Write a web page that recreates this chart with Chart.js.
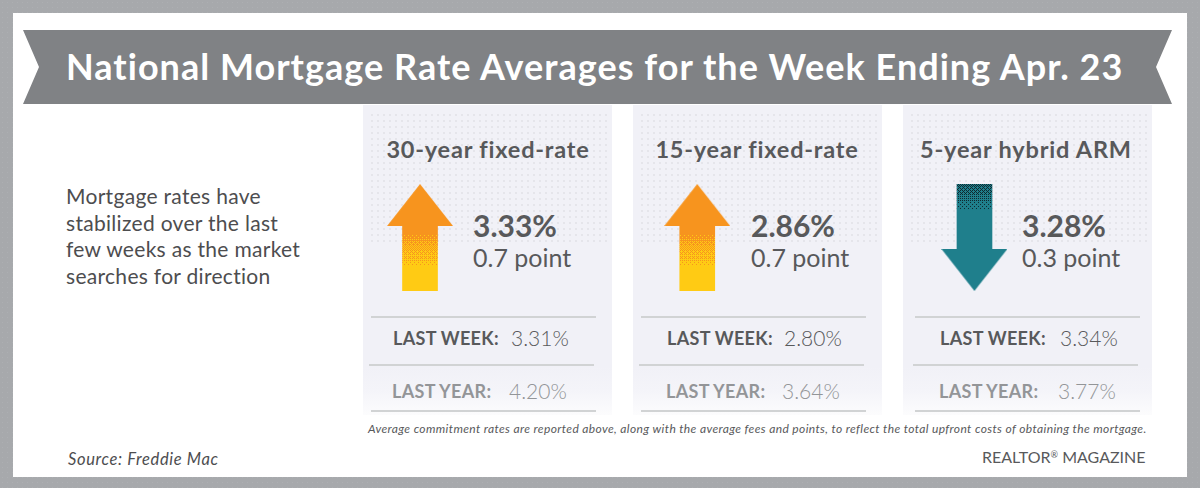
<!DOCTYPE html>
<html>
<head>
<meta charset="utf-8">
<script src="https://cdn.jsdelivr.net/npm/chart.js@4"></script>
<style>
    html, body { margin: 0; padding: 0; background: #fff; }
    #page { position: relative; width: 1200px; height: 488px; overflow: hidden; font-family: Lato, sans-serif; color: #58595b; background: #a7a9ac; }
    #page div, #page canvas { position: absolute; white-space: nowrap; }
    #frameDots { inset: 0; background-image: radial-gradient(#adafb2 0.6px, transparent 0.9px); background-size: 5px 5px; }
    #inner { left: 13px; top: 13px; width: 1174px; height: 464px; background: #fff; }
    #banner { left: 23px; top: 30px; width: 1149px; height: 74px; background: #808285;
        clip-path: polygon(0 0, 100% 0, 1133px 37px, 100% 100%, 0 100%, 16px 37px); }
    #title { left: 66px; top: 44px; font-size: 36px; font-weight: 700; color: #fff; letter-spacing: 1.02px; }
    .panel { top: 105px; width: 249px; height: 310px; background: linear-gradient(#f1f1f7 0, #f1f1f7 262px, #f4f4f9 285px, #fcfcfd 310px); }
    .panel .dots { left: 6px; top: 7px; width: 238px; height: 133px;
        background-image: radial-gradient(#d6d6dc 0.55px, transparent 0.85px); background-size: 6px 6px; }
    .rule { height: 2px; width: 225px; background: #d1d3d4; }
    .product { font-size: 23.5px; font-weight: 700; top: 135px; transform: translateX(-50%); letter-spacing: 0.8px; }
    .rate { font-size: 30px; font-weight: 700; top: 207px; }
    .change { font-size: 25px; top: 242px; }
    .rowLabel { font-size: 18px; font-weight: 700; letter-spacing: 0.3px; }
    .rowValue { font-size: 21px; font-weight: 300; }
    .faded { color: #939598; }
    .fadedValue { color: #939598; }
    #page #blurb { left: 66px; top: 183px; font-size: 21px; line-height: 26.6px; letter-spacing: 0.3px; white-space: pre; color: #4d4d4f; }
    #note { left: 368px; top: 421px; font-size: 12px; font-style: italic; color: #58595b; letter-spacing: 0.38px; }
    #source { left: 68px; top: 449px; font-size: 16.5px; font-style: italic; color: #4d4d4f; letter-spacing: 0.65px; }
    #brand { left: 982px; top: 447px; font-size: 16px; color: #58595b; }
    #brand sup { font-size: 9px; vertical-align: 5px; line-height: 0; }
</style>
</head>
<body>
<div id="page">
    <div id="frameDots"></div>
    <div id="inner"></div>
    <div id="banner"></div>
    <div id="title">National Mortgage Rate Averages for the Week Ending Apr. 23</div>
    <div id="blurb">Mortgage rates have
stabilized over the last
few weeks as the market
searches for direction</div>
    <div id="note">Average commitment rates are reported above, along with the average fees and points, to reflect the total upfront costs of obtaining the mortgage.</div>
    <div id="source">Source: Freddie Mac</div>
    <div id="brand">REALTOR<sup>®</sup> MAGAZINE</div>
    <canvas id="rateChart" width="1200" height="488" style="left:0;top:0;z-index:2"></canvas>
</div>

<script>
// Values
const productNames = ["30-year fixed-rate", "15-year fixed-rate", "5-year hybrid ARM"];
const currentRates = ["3.33%", "2.86%", "3.28%"];
const pointChanges = ["0.7 point", "0.7 point", "0.3 point"];
const lastWeekRates = ["3.31%", "2.80%", "3.34%"];
const lastYearRates = ["4.20%", "3.64%", "3.77%"];
const rateDirections = [1, 1, -1];

// Layout of the three panels, separate from the data
const panelLeft = [363, 633, 903];
const productCenter = [488, 757, 1026];
const rateLeft = [473, 751, 1022];
const rowLabelLeft = [393, 667, 940];
const rowValueLeft = [511, 784, 1060];
const ruleLeft = [371, 641, 915];

const SHAFT_TIP = 0.215;    // where the head meets the shaft, in axis units
const HEAD_CENTER = 0.607;

const page = document.getElementById("page");

function addDiv(className, left, top, text) {
    const el = document.createElement("div");
    el.className = className;
    el.style.left = left + "px";
    if (top !== null) el.style.top = top + "px";
    if (text) el.textContent = text;
    page.appendChild(el);
    return el;
}

// Panels and their text
productNames.forEach((name, i) => {
    const panel = addDiv("panel", panelLeft[i], null);
    const dots = document.createElement("div");
    dots.className = "dots";
    panel.appendChild(dots);

    addDiv("product", productCenter[i], null, name);
    addDiv("rate", rateLeft[i], null, currentRates[i]);
    addDiv("change", rateLeft[i], null, pointChanges[i]);

    addDiv("rule", ruleLeft[i], 316);
    addDiv("rule", ruleLeft[i] - 2, 364);
    addDiv("rule", ruleLeft[i], 410);

    addDiv("rowLabel", rowLabelLeft[i], 327, "LAST WEEK:");
    addDiv("rowValue", rowValueLeft[i], 325, lastWeekRates[i]);
    addDiv("rowLabel faded", rowLabelLeft[i] - 1, 380, "LAST YEAR:");
    addDiv("rowValue fadedValue", rowValueLeft[i] - 2, 378, lastYearRates[i]);
});

// Ordered dither between two colours, as in the original's shaft shading
const BAYER = [[0, 8, 2, 10], [12, 4, 14, 6], [3, 11, 1, 9], [15, 7, 13, 5]];

function ditherPattern(ctx, fromColor, toColor, yStart, yEnd, maxDensity) {
    const tile = document.createElement("canvas");
    tile.width = 4;
    tile.height = 488;
    const t = tile.getContext("2d");
    for (let y = 0; y < 488; y++) {
        const progress = Math.min(1, Math.max(0, (y - yStart) / (yEnd - yStart)));
        const density = (1 - progress) * maxDensity;
        for (let x = 0; x < 4; x++) {
            t.fillStyle = (BAYER[y % 4][x] + 0.5) / 16 < density ? fromColor : toColor;
            t.fillRect(x, y, 1, 1);
        }
    }
    return ctx.createPattern(tile, "repeat");
}

// Arrow head image, pointing up; the point rotation flips it for falling rates
function headImage(color) {
    const head = document.createElement("canvas");
    head.width = 66;
    head.height = 42;
    const h = head.getContext("2d");
    h.fillStyle = color;
    h.beginPath();
    h.moveTo(33, 0);
    h.lineTo(66, 42);
    h.lineTo(0, 42);
    h.closePath();
    h.fill();
    return head;
}

const chartCanvas = document.getElementById("rateChart");
const ctx = chartCanvas.getContext("2d");
const risingFill = ditherPattern(ctx, "#f7941e", "#ffcb14", 230, 268, 1);
const fallingFill = ditherPattern(ctx, "#10292f", "#1f7f8c", 186, 212, 0.45);

new Chart(chartCanvas, {
    type: "bar",
    data: {
        labels: productNames,
        datasets: [
            {
                type: "bar",
                data: rateDirections.map(d => [-d, d * SHAFT_TIP]),
                backgroundColor: rateDirections.map(d => d > 0 ? risingFill : fallingFill),
                barThickness: 35,
                borderWidth: 0,
                order: 2
            },
            {
                type: "line",
                data: rateDirections.map(d => d * HEAD_CENTER),
                showLine: false,
                clip: false,
                pointStyle: rateDirections.map(d => headImage(d > 0 ? "#f7941e" : "#1f7f8c")),
                pointRotation: rateDirections.map(d => d > 0 ? 0 : 180),
                pointRadius: 30,
                order: 1
            }
        ]
    },
    options: {
        responsive: false,
        animation: false,
        devicePixelRatio: 1,
        layout: { padding: { left: 281.4, right: 86.9, top: 184, bottom: 197 } },
        plugins: { legend: { display: false }, tooltip: { enabled: false } },
        scales: {
            x: { display: false },
            y: { display: false, min: -1, max: 1 }
        }
    }
});
</script>
</body>
</html>
